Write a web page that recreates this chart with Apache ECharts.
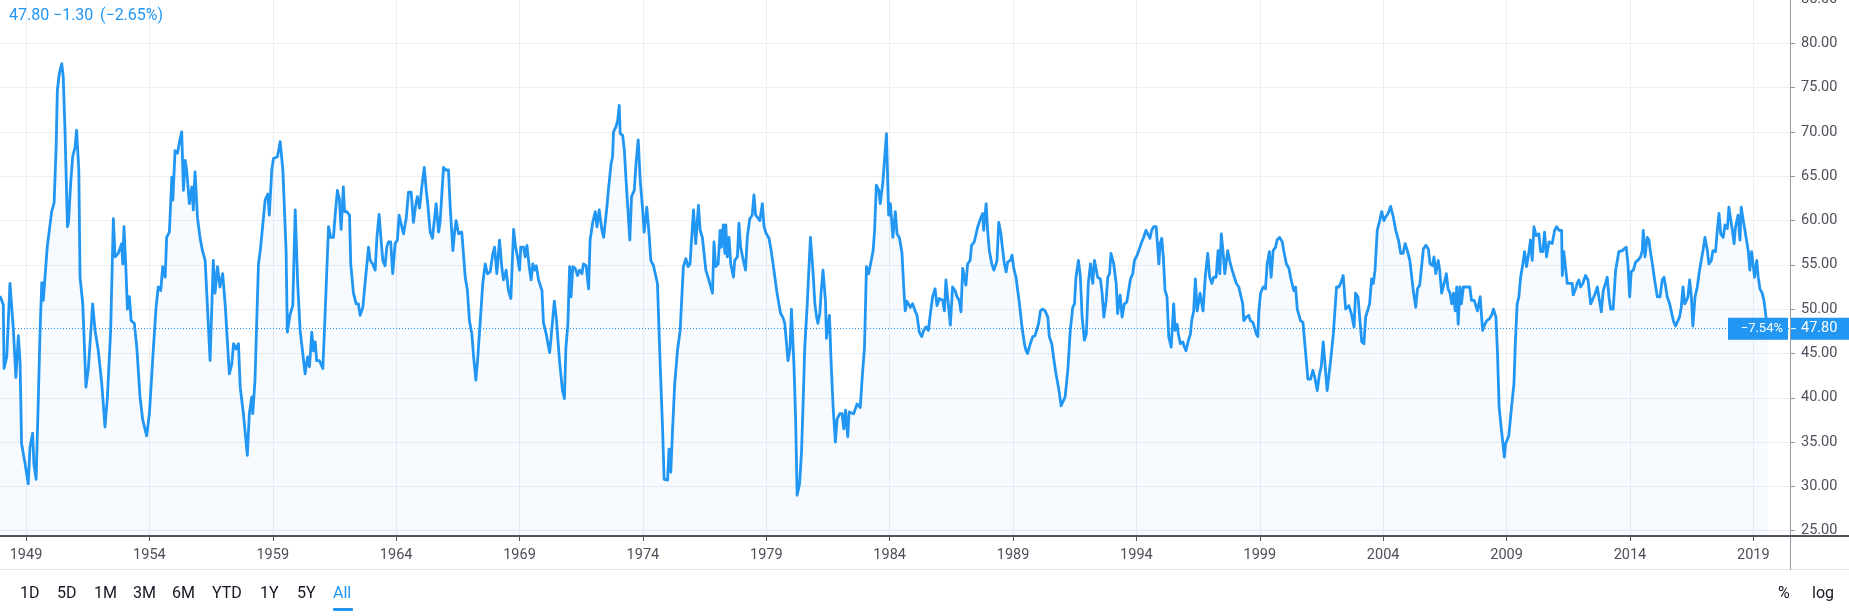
<!DOCTYPE html>
<html>
<head>
<meta charset="utf-8">
<script src="https://cdn.jsdelivr.net/npm/echarts@6/dist/echarts.min.js"></script>
<style>
html,body{margin:0;padding:0;background:#ffffff;}
#chart{width:1849px;height:616px;}
</style>
</head>
<body>
<div id="chart"></div>
<script>
// ---------- tick labels ----------
const yearTicks = [1949,1954,1959,1964,1969,1974,1979,1984,1989,1994,1999,2004,2009,2014,2019];
const priceTicks = [25,30,35,40,45,50,55,60,65,70,75,80,85];
const rangeButtons = ['1D','5D','1M','3M','6M','YTD','1Y','5Y','All'];
const scaleButtons = ['%','log'];

// ---------- headline values ----------
const lastValue = 47.80;
const lastChange = -1.30;
const lastChangePct = -2.65;
const rangeChangePct = -7.54;

// ---------- series: [decimal year, index value] ----------
const pmi1948to1954 = [
[1947.95,51.5],[1948.08,50.5],[1948.11,43.3],[1948.22,44.6],[1948.35,52.9],[1948.49,47.6],[1948.59,42.3],[1948.69,47.0],[1948.76,44.0],[1948.82,34.8],[1948.96,32.6],[1949.09,30.3],[1949.16,34.4],[1949.27,36.0],[1949.32,32.5],[1949.41,30.8],[1949.50,40.0],[1949.57,47.6],[1949.64,53.0],[1949.70,51.0],[1949.77,51.0],[1949.86,57.0],[1949.95,59.0],[1950.04,61.0],[1950.14,62.0],[1950.22,68.3],[1950.27,74.7],[1950.35,76.6],[1950.45,77.7],[1950.51,76.2],[1950.58,70.2],[1950.68,59.3],[1950.72,59.7],[1950.81,64.2],[1950.89,67.2],[1950.99,68.3],[1951.05,70.2],[1951.14,65.7],[1951.19,53.6],[1951.30,50.6],[1951.43,41.2],[1951.53,43.4],[1951.70,50.6],[1951.80,47.6],[1951.93,45.3],[1952.07,41.6],[1952.20,36.7],[1952.30,40.1],[1952.43,47.6],[1952.54,60.2],[1952.61,55.9],[1952.74,56.3],[1952.88,57.4],[1952.92,55.1],[1952.97,59.3],[1953.05,54.4],[1953.11,50.0],[1953.19,51.4],[1953.26,48.7],[1953.39,48.4],[1953.49,45.7],[1953.62,40.1],[1953.73,37.5],[1953.89,35.7],[1954.00,38.2],[1954.14,44.6],[1954.27,50.2],[1954.36,52.5],[1954.46,52.1],[1954.54,54.8],[1954.64,53.6],[1954.70,58.1],[1954.81,58.7],[1954.91,64.9],[1954.95,62.3]
];
const pmi1955to1961 = [
[1955.04,67.9],[1955.14,67.6],[1955.22,68.9],[1955.31,70.0],[1955.38,63.4],[1955.45,66.8],[1955.51,65.7],[1955.62,61.9],[1955.72,63.8],[1955.78,61.2],[1955.85,65.5],[1955.95,60.3],[1956.05,58.1],[1956.15,56.6],[1956.26,55.5],[1956.46,44.2],[1956.59,55.5],[1956.66,51.8],[1956.76,54.8],[1956.86,52.5],[1956.97,54.0],[1957.07,50.6],[1957.24,42.7],[1957.34,43.8],[1957.41,46.1],[1957.51,45.5],[1957.61,46.1],[1957.68,41.2],[1957.81,38.2],[1957.97,33.5],[1958.05,38.2],[1958.15,40.1],[1958.19,38.2],[1958.28,42.0],[1958.42,55.1],[1958.51,57.0],[1958.69,62.3],[1958.80,63.0],[1958.86,60.6],[1958.96,65.7],[1959.03,67.0],[1959.19,67.2],[1959.30,68.9],[1959.41,65.7],[1959.54,56.6],[1959.59,47.4],[1959.70,49.4],[1959.81,50.4],[1959.91,61.2],[1959.95,61.4],[1960.01,52.9],[1960.11,47.6],[1960.31,42.7],[1960.41,44.6],[1960.49,43.5],[1960.58,47.4],[1960.65,45.3],[1960.72,46.3],[1960.78,44.2],[1960.89,44.2],[1961.03,43.3],[1961.12,49.4],[1961.26,59.3],[1961.35,58.1],[1961.46,58.1],[1961.53,60.7],[1961.62,63.4],[1961.70,62.4],[1961.77,59.0],[1961.86,63.8],[1961.91,61.0]
];
const pmi1962to1968 = [
[1962.00,61.0],[1962.11,60.6],[1962.16,55.1],[1962.27,51.8],[1962.38,50.6],[1962.47,50.6],[1962.54,49.3],[1962.65,50.2],[1962.74,52.9],[1962.88,57.0],[1962.95,55.5],[1963.05,55.1],[1963.15,54.4],[1963.22,58.1],[1963.31,60.7],[1963.38,58.1],[1963.46,55.5],[1963.55,54.9],[1963.62,57.0],[1963.69,57.6],[1963.78,57.6],[1963.86,54.0],[1963.96,57.4],[1964.05,57.8],[1964.12,60.6],[1964.23,59.3],[1964.30,58.5],[1964.41,60.3],[1964.50,63.2],[1964.61,63.2],[1964.70,59.8],[1964.80,61.9],[1964.86,62.7],[1964.95,61.4],[1965.04,63.8],[1965.14,66.0],[1965.22,63.4],[1965.28,61.9],[1965.38,58.7],[1965.47,58.0],[1965.55,58.0],[1965.62,61.9],[1965.72,58.7],[1965.78,59.8],[1965.92,66.0],[1966.01,65.7],[1966.12,65.7],[1966.19,61.6],[1966.30,56.6],[1966.36,58.5],[1966.43,60.0],[1966.53,58.5],[1966.66,58.7],[1966.80,53.6],[1966.89,52.1],[1966.97,48.7],[1967.07,47.2],[1967.14,44.6],[1967.23,42.0],[1967.30,44.2],[1967.41,48.7],[1967.51,52.9],[1967.61,55.1],[1967.70,54.0],[1967.81,54.2],[1967.92,56.3],[1967.99,57.0],[1968.08,54.0],[1968.19,57.8],[1968.28,54.8],[1968.35,53.3],[1968.46,54.4],[1968.55,52.1],[1968.65,51.2],[1968.76,59.0],[1968.84,57.0],[1968.92,55.9]
];
const pmi1969to1975 = [
[1969.00,54.4],[1969.05,57.0],[1969.16,57.0],[1969.23,55.9],[1969.30,57.2],[1969.41,54.4],[1969.47,53.3],[1969.54,55.1],[1969.61,54.4],[1969.68,54.9],[1969.77,53.3],[1969.91,52.1],[1969.97,48.5],[1970.08,47.2],[1970.15,47.0],[1970.22,45.1],[1970.27,46.5],[1970.41,50.9],[1970.49,49.0],[1970.62,44.2],[1970.74,40.8],[1970.82,39.9],[1970.88,45.7],[1970.96,48.3],[1971.03,54.8],[1971.09,51.4],[1971.16,54.8],[1971.26,54.6],[1971.35,53.8],[1971.43,54.4],[1971.53,54.0],[1971.59,55.1],[1971.70,54.9],[1971.80,52.3],[1971.86,57.8],[1971.96,59.7],[1972.07,61.0],[1972.14,59.3],[1972.23,61.2],[1972.34,58.9],[1972.41,58.1],[1972.54,61.5],[1972.60,63.4],[1972.71,66.4],[1972.77,67.2],[1972.81,70.0],[1972.91,70.6],[1972.98,71.3],[1973.04,73.0],[1973.08,69.8],[1973.18,69.6],[1973.25,67.9],[1973.31,64.9],[1973.38,65.1],[1973.47,57.8],[1973.54,62.7],[1973.65,63.4],[1973.72,66.4],[1973.81,69.1],[1973.89,64.6],[1973.99,61.2],[1974.05,58.7],[1974.11,58.9],[1974.16,61.5],[1974.26,58.1],[1974.32,55.5],[1974.43,54.9],[1974.50,54.8],[1974.59,52.9],[1974.70,43.8],[1974.80,36.3],[1974.86,30.8],[1975.00,30.7],[1975.06,34.2],[1975.13,31.6],[1975.20,36.3],[1975.29,41.6],[1975.40,45.3],[1975.51,47.6],[1975.64,54.8],[1975.74,55.7],[1975.83,54.8],[1975.91,55.1]
];
const pmi1976to1982 = [
[1976.05,61.2],[1976.14,57.4],[1976.25,61.7],[1976.32,58.9],[1976.41,58.1],[1976.55,54.4],[1976.64,53.6],[1976.72,53.4],[1976.82,51.8],[1976.88,57.6],[1976.95,54.8],[1977.05,55.1],[1977.13,58.9],[1977.18,57.0],[1977.26,59.5],[1977.32,56.3],[1977.36,59.5],[1977.42,55.9],[1977.49,58.1],[1977.56,55.1],[1977.67,53.6],[1977.72,55.5],[1977.83,55.9],[1977.89,59.7],[1977.96,57.0],[1978.07,55.5],[1978.16,54.4],[1978.23,58.1],[1978.33,60.2],[1978.43,60.6],[1978.50,62.9],[1978.57,60.6],[1978.64,60.4],[1978.74,60.0],[1978.84,61.9],[1978.91,59.3],[1979.00,58.5],[1979.11,58.0],[1979.20,56.6],[1979.31,54.4],[1979.42,52.1],[1979.51,50.6],[1979.58,49.5],[1979.67,49.1],[1979.75,48.4],[1979.82,46.1],[1979.88,44.2],[1979.96,45.5],[1980.02,50.0],[1980.12,43.8],[1980.19,37.5],[1980.25,29.0],[1980.35,30.3],[1980.43,34.0],[1980.50,40.1],[1980.56,45.7],[1980.66,50.6],[1980.79,58.1],[1980.89,54.4],[1980.97,50.6],[1981.04,49.1],[1981.09,48.4],[1981.17,49.5],[1981.22,51.8],[1981.30,54.4],[1981.40,50.9],[1981.44,46.7],[1981.49,46.9],[1981.56,49.3],[1981.63,43.8],[1981.71,38.9],[1981.80,35.0],[1981.87,37.6],[1981.98,38.2],[1982.07,38.2],[1982.14,36.5],[1982.21,38.6],[1982.30,35.6],[1982.36,38.4],[1982.44,38.2],[1982.54,38.2],[1982.68,39.3],[1982.75,39.5],[1982.81,38.9],[1982.88,42.0],[1982.98,45.7]
];
const pmi1983to1988 = [
[1983.06,54.8],[1983.15,54.0],[1983.22,54.2],[1983.33,56.6],[1983.39,58.9],[1983.46,64.0],[1983.56,63.4],[1983.62,61.9],[1983.72,64.2],[1983.78,66.4],[1983.87,69.8],[1983.92,64.6],[1983.96,60.6],[1984.03,61.9],[1984.13,58.1],[1984.23,61.0],[1984.30,58.5],[1984.40,58.0],[1984.50,56.3],[1984.57,52.5],[1984.63,49.8],[1984.70,50.9],[1984.84,50.2],[1984.93,50.6],[1985.03,49.8],[1985.11,49.3],[1985.20,47.4],[1985.30,46.9],[1985.38,47.6],[1985.47,48.0],[1985.57,47.6],[1985.65,49.5],[1985.74,51.4],[1985.84,52.3],[1985.92,50.4],[1986.01,51.2],[1986.15,51.0],[1986.22,49.8],[1986.28,53.3],[1986.35,53.3],[1986.46,48.2],[1986.55,52.5],[1986.65,52.1],[1986.73,51.4],[1986.82,51.0],[1986.89,49.7],[1986.96,54.6],[1987.03,54.8],[1987.09,52.7],[1987.16,55.1],[1987.26,55.5],[1987.32,57.2],[1987.43,57.6],[1987.50,57.6],[1987.57,59.3],[1987.68,60.2],[1987.77,60.8],[1987.81,58.9],[1987.91,61.9],[1987.97,58.9],[1988.04,56.6],[1988.14,55.1],[1988.22,54.4],[1988.31,55.1],[1988.35,55.5],[1988.42,59.8],[1988.51,58.5],[1988.55,57.4],[1988.65,55.1],[1988.72,54.2],[1988.78,55.3],[1988.89,55.5],[1988.96,56.1]
];
const pmi1989to1996 = [
[1989.03,54.6],[1989.12,53.6],[1989.19,52.1],[1989.26,50.6],[1989.35,48.3],[1989.46,46.1],[1989.53,45.3],[1989.59,45.0],[1989.70,46.1],[1989.80,46.9],[1989.89,47.0],[1989.97,47.2],[1990.03,48.3],[1990.11,49.8],[1990.20,50.0],[1990.30,49.8],[1990.41,49.1],[1990.47,46.9],[1990.57,46.1],[1990.65,44.4],[1990.74,42.7],[1990.84,41.2],[1990.95,39.1],[1991.01,38.9],[1991.11,40.1],[1991.22,43.1],[1991.32,47.6],[1991.42,50.2],[1991.49,50.6],[1991.55,53.6],[1991.65,55.5],[1991.73,53.6],[1991.80,49.1],[1991.89,46.5],[1991.97,47.2],[1992.05,52.9],[1992.14,55.1],[1992.23,52.9],[1992.30,55.5],[1992.36,55.5],[1992.43,53.6],[1992.54,53.4],[1992.61,51.8],[1992.68,49.1],[1992.77,50.9],[1992.84,53.6],[1992.91,54.0],[1992.97,56.3],[1993.08,55.1],[1993.18,52.9],[1993.24,49.5],[1993.34,51.6],[1993.42,49.1],[1993.51,50.6],[1993.61,50.8],[1993.68,50.6],[1993.76,53.4],[1993.85,54.0],[1993.92,55.5],[1994.03,56.1],[1994.12,56.8],[1994.19,57.4],[1994.28,58.0],[1994.39,58.9],[1994.46,58.7],[1994.55,58.0],[1994.62,58.9],[1994.70,59.3],[1994.80,59.3],[1994.86,59.1],[1994.91,55.1],[1994.96,57.4],[1995.03,58.0],[1995.09,55.9],[1995.16,52.1],[1995.24,51.4],[1995.31,46.9],[1995.41,45.7],[1995.45,45.5],[1995.51,50.6],[1995.57,47.6],[1995.65,48.3],[1995.70,47.2],[1995.78,46.1],[1995.88,46.3],[1995.95,45.7],[1996.01,45.3],[1996.11,46.5],[1996.19,47.2],[1996.24,48.7],[1996.32,49.8],[1996.39,53.4],[1996.46,49.8],[1996.53,49.8],[1996.58,51.8]
];
const pmi1996to2002 = [
[1996.70,49.8],[1996.79,53.6],[1996.89,56.3],[1996.97,53.6],[1997.06,52.9],[1997.13,53.6],[1997.23,53.6],[1997.31,56.6],[1997.38,54.0],[1997.44,58.5],[1997.51,56.5],[1997.58,54.0],[1997.65,54.0],[1997.70,56.6],[1997.81,55.1],[1997.88,54.4],[1997.97,53.6],[1998.05,52.9],[1998.15,52.5],[1998.24,51.4],[1998.31,50.6],[1998.35,48.7],[1998.45,49.1],[1998.55,49.3],[1998.62,48.7],[1998.72,48.5],[1998.78,48.3],[1998.86,47.2],[1998.92,46.9],[1998.96,49.7],[1999.03,51.8],[1999.14,52.5],[1999.23,52.3],[1999.30,55.1],[1999.39,56.5],[1999.46,53.6],[1999.54,56.6],[1999.64,57.0],[1999.70,57.8],[1999.80,58.1],[1999.91,57.6],[1999.97,56.6],[2000.08,55.1],[2000.18,54.6],[2000.27,53.3],[2000.38,52.1],[2000.45,52.5],[2000.52,50.0],[2000.58,49.8],[2000.65,48.7],[2000.75,48.5],[2000.85,45.3],[2000.95,42.1],[2001.06,42.1],[2001.15,43.1],[2001.23,42.3],[2001.33,40.8],[2001.42,42.7],[2001.49,43.5],[2001.57,46.3],[2001.64,46.1],[2001.73,40.8],[2001.87,44.2],[2001.98,47.2],[2002.11,52.5],[2002.21,52.5],[2002.30,53.1],[2002.38,53.8],[2002.48,50.0],[2002.61,50.4],[2002.71,49.5],[2002.82,48.0],[2002.88,51.8],[2002.98,51.4]
];
const pmi2003to2008 = [
[2003.06,48.7],[2003.13,46.3],[2003.22,46.1],[2003.29,49.1],[2003.36,49.1],[2003.45,50.6],[2003.53,53.4],[2003.60,52.9],[2003.67,54.4],[2003.76,58.9],[2003.86,60.0],[2003.94,61.0],[2004.03,60.0],[2004.10,60.4],[2004.20,60.8],[2004.30,61.6],[2004.41,60.4],[2004.51,58.9],[2004.62,57.8],[2004.71,56.3],[2004.81,56.3],[2004.89,57.4],[2004.98,56.6],[2005.08,55.5],[2005.16,55.3],[2005.22,52.1],[2005.32,50.2],[2005.39,52.3],[2005.48,52.7],[2005.56,52.5],[2005.63,56.8],[2005.73,57.2],[2005.83,56.8],[2005.90,55.1],[2006.00,54.9],[2006.06,55.9],[2006.13,54.0],[2006.23,55.5],[2006.29,54.4],[2006.37,51.8],[2006.47,52.9],[2006.56,54.0],[2006.63,52.3],[2006.71,51.8],[2006.78,50.6],[2006.85,51.8],[2006.92,49.8],[2006.98,52.5],[2007.04,48.3],[2007.11,52.5],[2007.17,50.6],[2007.25,52.5],[2007.35,52.5],[2007.42,52.3],[2007.51,52.5],[2007.58,51.0],[2007.69,51.0],[2007.75,51.2],[2007.82,49.8],[2007.93,51.4],[2008.03,47.6],[2008.12,48.3],[2008.20,48.7],[2008.30,48.9],[2008.39,49.3],[2008.47,50.0],[2008.57,49.1],[2008.63,45.3],[2008.70,38.9],[2008.77,37.0],[2008.84,35.2],[2008.91,33.3],[2008.96,34.8]
];
const pmi2009to2013 = [
[2009.09,35.7],[2009.19,38.6],[2009.30,41.6],[2009.36,46.5],[2009.43,50.6],[2009.50,51.4],[2009.57,53.6],[2009.66,55.1],[2009.73,56.5],[2009.81,54.8],[2009.91,56.5],[2009.97,57.8],[2010.04,55.5],[2010.11,59.3],[2010.20,58.3],[2010.31,58.5],[2010.38,56.5],[2010.47,56.5],[2010.54,58.7],[2010.62,55.9],[2010.72,57.6],[2010.85,57.4],[2010.95,58.9],[2011.03,59.3],[2011.12,58.9],[2011.23,58.9],[2011.26,53.8],[2011.32,56.5],[2011.39,56.5],[2011.46,52.9],[2011.57,52.9],[2011.66,52.9],[2011.70,51.6],[2011.80,52.3],[2011.86,52.9],[2011.93,53.3],[2012.00,52.5],[2012.09,52.9],[2012.20,53.8],[2012.30,53.3],[2012.41,50.6],[2012.47,50.6],[2012.57,51.6],[2012.68,52.5],[2012.74,51.4],[2012.84,49.7],[2012.92,52.1],[2013.01,52.9],[2013.08,53.6],[2013.15,51.4],[2013.22,50.0],[2013.32,50.0],[2013.42,54.4],[2013.49,55.5],[2013.55,56.5],[2013.62,56.3],[2013.69,56.6],[2013.76,56.8],[2013.85,57.0],[2013.92,55.1],[2013.99,51.4]
];
const pmi2014to2019 = [
[2014.05,54.2],[2014.14,54.4],[2014.23,55.3],[2014.32,55.5],[2014.43,55.9],[2014.50,56.6],[2014.54,58.9],[2014.61,55.9],[2014.70,58.1],[2014.77,57.8],[2014.84,56.3],[2014.91,55.1],[2015.00,53.3],[2015.11,51.4],[2015.22,51.4],[2015.31,53.3],[2015.38,53.6],[2015.45,52.5],[2015.51,51.4],[2015.61,50.6],[2015.68,49.7],[2015.76,48.7],[2015.85,48.1],[2015.92,47.9],[2016.01,49.1],[2016.08,50.2],[2016.15,52.5],[2016.22,50.6],[2016.28,50.9],[2016.35,51.4],[2016.42,53.3],[2016.49,51.4],[2016.55,48.1],[2016.64,51.4],[2016.73,52.5],[2016.80,54.0],[2016.89,55.5],[2016.97,56.8],[2017.04,58.1],[2017.14,56.6],[2017.20,55.1],[2017.30,55.5],[2017.36,56.6],[2017.47,56.5],[2017.54,58.9],[2017.61,60.8],[2017.68,58.5],[2017.78,58.1],[2017.85,59.5],[2017.95,59.1],[2018.01,61.5],[2018.08,60.2],[2018.15,58.9],[2018.22,57.4],[2018.28,59.3],[2018.38,60.6],[2018.46,57.8],[2018.51,61.5],[2018.58,60.2],[2018.66,58.9],[2018.73,58.7],[2018.80,56.5],[2018.86,54.4],[2018.93,56.5],[2019.00,56.5],[2019.05,53.6],[2019.14,55.5],[2019.20,53.6],[2019.27,52.3],[2019.36,51.8],[2019.43,51.0],[2019.50,49.5],[2019.57,47.8]
];

const seriesData = [].concat(pmi1948to1954, pmi1955to1961, pmi1962to1968, pmi1969to1975,
  pmi1976to1982, pmi1983to1988, pmi1989to1996, pmi1996to2002, pmi2003to2008,
  pmi2009to2013, pmi2014to2019);

// ---------- styles ----------
const BLUE = '#2196f3';
const TEXT = '#4c505b';
const FONT = 'Roboto, "DejaVu Sans", sans-serif';
const fmtSigned = v => (v < 0 ? '\u2212' : '+') + Math.abs(v).toFixed(2);

const chart = echarts.init(document.getElementById('chart'), null, {renderer: 'canvas'});

chart.setOption({
  animation: false,
  backgroundColor: '#ffffff',
  grid: {left: 0, right: 59, top: -1, bottom: 80, containLabel: false, outerBoundsMode: 'none'},
  xAxis: {
    type: 'value',
    min: 1947.946,
    max: 2020.487,
    axisLine: {show: true, lineStyle: {color: '#50535e', width: 2}},
    axisTick: {show: true, length: 5, customValues: yearTicks, lineStyle: {color: '#50535e', width: 1}},
    axisLabel: {
      customValues: yearTicks, margin: 12,
      formatter: v => String(Math.round(v)),
      color: TEXT, fontFamily: FONT, fontSize: 14.5
    },
    splitLine: {show: true, lineStyle: {color: '#ebeef4', width: 1}}
  },
  yAxis: {
    type: 'value',
    position: 'right',
    min: 24.4,
    max: 85,
    axisLine: {show: true, lineStyle: {color: '#9598a1', width: 1}},
    axisTick: {show: true, length: 5, customValues: priceTicks, lineStyle: {color: '#9598a1'}},
    axisLabel: {
      customValues: priceTicks, margin: 11,
      formatter: v => v.toFixed(2),
      color: TEXT, fontFamily: FONT, fontSize: 14.5
    },
    splitLine: {show: true, lineStyle: {color: '#ebeef4', width: 1}}
  },
  series: [{
    type: 'line',
    data: seriesData,
    showSymbol: false,
    symbol: 'none',
    smooth: false,
    lineStyle: {color: BLUE, width: 2.8, join: 'round'},
    areaStyle: {color: 'rgba(33,150,243,0.05)', origin: 'start'},
    markLine: {
      silent: true,
      symbol: ['none', 'none'],
      label: {show: false},
      lineStyle: {color: BLUE, type: [1, 2], width: 1},
      data: [{yAxis: lastValue}]
    }
  }]
});

// ---------- chrome (price tags, toolbar, legend) ----------
const yTag = chart.convertToPixel({yAxisIndex: 0}, lastValue);
const plotRight = chart.convertToPixel({xAxisIndex: 0}, 2020.487);
const plotBottom = chart.convertToPixel({yAxisIndex: 0}, 24.4);

const toolbarX = [20, 57, 94, 133, 172, 212, 260, 297, 333];
const graphics = [];

// legend
const legendParts = [lastValue.toFixed(2), fmtSigned(lastChange), '(' + fmtSigned(lastChangePct) + '%)'];
const legendX = [9, 53, 100];
legendParts.forEach((t, i) => graphics.push({
  type: 'text', x: legendX[i], y: 16,
  style: {text: t, fill: BLUE, font: '16px ' + FONT, textVerticalAlign: 'middle'}
}));

// time axis extension, price axis extension, separator
graphics.push({type: 'line', shape: {x1: plotRight, y1: plotBottom, x2: 1849, y2: plotBottom},
  style: {stroke: '#50535e', lineWidth: 2}});
graphics.push({type: 'line', shape: {x1: 0, y1: 569.5, x2: 1849, y2: 569.5},
  style: {stroke: '#e0e3eb', lineWidth: 1}});
graphics.push({type: 'line', shape: {x1: plotRight + 0.5, y1: plotBottom, x2: plotRight + 0.5, y2: 569.5},
  style: {stroke: '#9598a1', lineWidth: 1}});

// price tags
graphics.push({type: 'rect', shape: {x: plotRight - 62, y: yTag - 11, width: 60, height: 22},
  style: {fill: BLUE}, z: 100});
graphics.push({type: 'text', x: plotRight - 7, y: yTag, z: 101,
  style: {text: fmtSigned(rangeChangePct) + '%', fill: '#ffffff', font: '13px ' + FONT,
    textAlign: 'right', textVerticalAlign: 'middle'}});
graphics.push({type: 'rect', shape: {x: plotRight + 1, y: yTag - 11, width: 1849 - plotRight - 1, height: 22},
  style: {fill: BLUE}, z: 100});
graphics.push({type: 'line', shape: {x1: plotRight + 1, y1: yTag, x2: plotRight + 6, y2: yTag},
  style: {stroke: '#ffffff', lineWidth: 1}, z: 101});
graphics.push({type: 'text', x: plotRight + 11, y: yTag, z: 101,
  style: {text: lastValue.toFixed(2), fill: '#ffffff', font: '14.5px ' + FONT, textVerticalAlign: 'middle'}});

// range toolbar
rangeButtons.forEach((t, i) => graphics.push({
  type: 'text', x: toolbarX[i], y: 594,
  style: {text: t, fill: t === 'All' ? BLUE : '#131722', font: '16px ' + FONT, textVerticalAlign: 'middle'}
}));
graphics.push({type: 'rect', shape: {x: 333, y: 608, width: 20, height: 3, r: 1}, style: {fill: BLUE}});
graphics.push({type: 'text', x: 1778, y: 594,
  style: {text: scaleButtons[0], fill: '#131722', font: '16px ' + FONT, textVerticalAlign: 'middle'}});
graphics.push({type: 'text', x: 1812, y: 594,
  style: {text: scaleButtons[1], fill: '#131722', font: '16px ' + FONT, textVerticalAlign: 'middle'}});

chart.setOption({graphic: graphics});
</script>
</body>
</html>
